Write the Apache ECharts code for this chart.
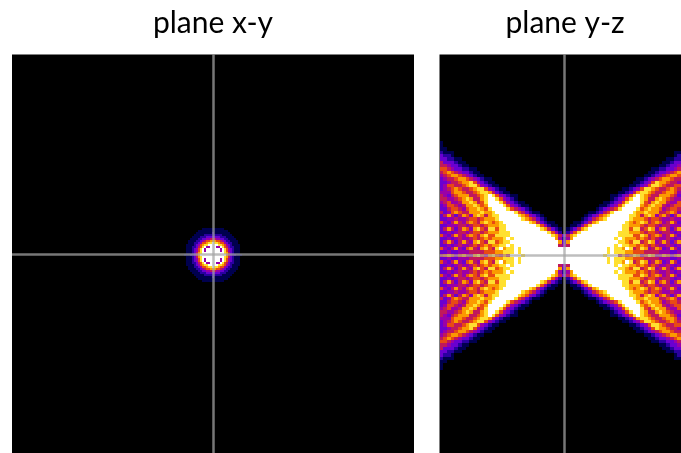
<!DOCTYPE html>
<html>
<head>
<meta charset="utf-8">
<title>plane x-y / plane y-z</title>
<script src="https://cdn.jsdelivr.net/npm/echarts@6/dist/echarts.min.js"></script>
<style>
  html, body { margin: 0; padding: 0; background: #fff; }
  /* reference is an upscaled screenshot, everything in it is slightly soft */
  #main { width: 681px; height: 453px; filter: blur(0.75px); }
</style>
</head>
<body>
<div id="main"></div>
<script>
var titles = ['plane x-y', 'plane y-z'];

// intensity levels 0-9, one colour per level
var palette = ['#000000', '#00004e', '#2a00a0', '#6a00d0', '#9a00a8', '#c0185c', '#e84a14', '#fb9a00', '#ffe030', '#ffffff'];

// x-y plane: top-left quarter around the spot, last row/col = centre
var xyQuarter = [
  '000000000000000',
  '000000000111111',
  '000000011111111',
  '000000111111112',
  '000001111122222',
  '000011112223333',
  '000111122334455',
  '001111223456677',
  '001112234667889',
  '011112346788999',
  '011122356894499',
  '011123468949999',
  '011123468949999',
  '011123578999999',
  '111223579999999'
];

// y-z plane: top-left quarter from y=130 down to the centre row, missing cells are black
var yzQuarter = [
  '', '', '', '1',
  '1',
  '11',
  '2111',
  '3221',
  '332211',
  '5333211',
  '55433211',
  '6654332211',
  '56765433211',
  '456776543211',
  '34556776543211',
  '334556778643211',
  '3466556788643211',
  '345676556788643211',
  '4446776556788753211',
  '543567775567898643211',
  '554456787557899864321',
  '45644577875689998643211',
  '346654577876799998643211',
  '3356654677876899998654321',
  '534676557778778999998653211',
  '3575357647875788999998764321',
  '33445445665677789999998765321',
  '6435754676578767899999998753211',
  '33444554566567778899999999864211',
  '357535764786588688999999999875321',
  '334345545665677788899999999998642',
  '6435754676578668888999999999998753',
  '3343454456567677789899999999999742',
  '3575357547865886788999999999999973',
  '3343454456567677889899999999999954',
  '6435743675478658978898999999999999',
  '3343344455556667788898999999999999',
  '5676467547864786575999899999999999'
];

var xyCols = 201, xyRows = 200, xyCenterCol = 100, xyCenterRow = 100;
var yzCols = 65, yzRows = 120, yzCenterCol = 33, yzCenterRow = 60;

function labels(n) {
  var out = [];
  for (var i = 0; i < n; i++) out.push(i);
  return out;
}

// the picture is symmetric, so each quarter is unfolded around the centre cell
function unfold(quarter, cols, rows, centerCol, centerRow) {
  var cells = [];
  var lastRow = quarter.length - 1;
  var lastCol = quarter[lastRow].length - 1;
  for (var r = 0; r < rows; r++) {
    var line = quarter[lastRow - Math.abs(r - centerRow)];
    if (!line) continue;
    for (var c = 0; c < cols; c++) {
      var ch = line[lastCol - Math.abs(c - centerCol)];
      if (ch && ch !== '0') cells.push([c, r, +ch]);
    }
  }
  return cells;
}

// snap cells to whole pixels, heatmap rects leave faint seams at fractional band widths
function renderCell(params, api) {
  var p = api.coord([api.value(0), api.value(1)]);
  var s = api.size([1, 1]);
  var x0 = Math.round(p[0] - s[0] / 2), x1 = Math.round(p[0] + s[0] / 2);
  var y0 = Math.round(p[1] - s[1] / 2), y1 = Math.round(p[1] + s[1] / 2);
  return {
    type: 'rect',
    shape: { x: x0, y: y0, width: x1 - x0, height: y1 - y0 },
    style: { fill: api.visual('color') }
  };
}

function crossLine(col, row) {
  return {
    silent: true,
    symbol: 'none',
    animation: false,
    label: { show: false },
    emphasis: { disabled: true },
    lineStyle: { color: 'rgba(165,165,165,0.72)', width: 2.5, type: 'solid' },
    data: [{ xAxis: col }, { yAxis: row }]
  };
}

var chart = echarts.init(document.getElementById('main'));
chart.setOption({
  animation: false,
  backgroundColor: '#fff',
  title: [
    { text: titles[0], left: 208, top: 3, textAlign: 'center', textStyle: { fontFamily: 'Lato', fontSize: 30, fontWeight: 'normal', color: '#000' } },
    { text: titles[1], left: 560, top: 3, textAlign: 'center', textStyle: { fontFamily: 'Lato', fontSize: 30, fontWeight: 'normal', color: '#000' } }
  ],
  grid: [
    { left: 12, top: 54.5, width: 402, height: 399, show: true, backgroundColor: '#000', borderWidth: 0 },
    { left: 439.5, top: 54.5, width: 242, height: 399, show: true, backgroundColor: '#000', borderWidth: 0 }
  ],
  xAxis: [
    { type: 'category', gridIndex: 0, data: labels(xyCols), show: false },
    { type: 'category', gridIndex: 1, data: labels(yzCols), show: false }
  ],
  yAxis: [
    { type: 'category', gridIndex: 0, data: labels(xyRows), inverse: true, show: false },
    { type: 'category', gridIndex: 1, data: labels(yzRows), inverse: true, show: false }
  ],
  visualMap: { show: false, type: 'continuous', min: 0, max: 9, dimension: 2, inRange: { color: palette } },
  series: [
    {
      type: 'custom',
      xAxisIndex: 0,
      yAxisIndex: 0,
      renderItem: renderCell,
      encode: { x: 0, y: 1 },
      clip: true,
      data: unfold(xyQuarter, xyCols, xyRows, xyCenterCol, xyCenterRow),
      markLine: crossLine(xyCenterCol, xyCenterRow)
    },
    {
      type: 'custom',
      xAxisIndex: 1,
      yAxisIndex: 1,
      renderItem: renderCell,
      encode: { x: 0, y: 1 },
      clip: true,
      data: unfold(yzQuarter, yzCols, yzRows, yzCenterCol, yzCenterRow),
      markLine: crossLine(yzCenterCol, yzCenterRow)
    }
  ]
});
</script>
</body>
</html>
